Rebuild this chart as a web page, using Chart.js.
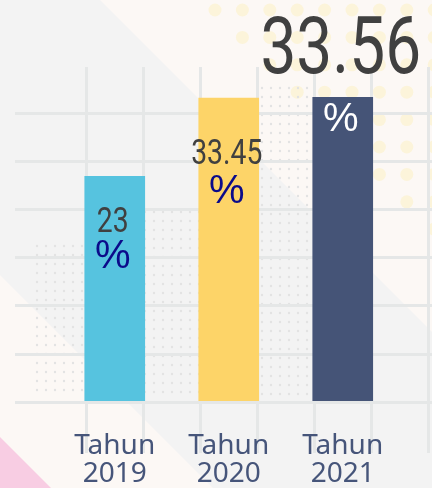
<!DOCTYPE html>
<html>
<head>
<meta charset="utf-8">
<script src="https://cdn.jsdelivr.net/npm/chart.js@4.4.0/dist/chart.umd.min.js"></script>
<style>
  html, body { margin: 0; padding: 0; overflow: hidden; background: #f3f3f3; }
  #wrap { width: 432px; height: 488px; position: relative; }
</style>
</head>
<body>
<div id="wrap"><canvas id="yearChart"></canvas></div>
<script>
// data read from the infographic
const years = [2019, 2020, 2021];
const values = [23, 33.45, 33.56];
const valueLabels = ["23", "33.45", "33.56"];
const tickLabels = [["Tahun", "2019"], ["Tahun", "2020"], ["Tahun", "2021"]];
const barColors = ["#56c3df", "#fdd468", "#455477"];

(() => {
  const canvas = document.getElementById("yearChart");
  if (typeof Chart === "undefined") {
    console.warn("[chart] Chart.js not loaded");
    return;
  }

  // axis ranges (the bars in the picture start below zero, so BASE is the baseline value)
  const X_MIN = 2018.125;
  const X_MAX = 2021.783;
  const Y_MIN = -10.93;
  const Y_MAX = 37.6;
  const BASE = -7.2;
  const Y_STEP = 6.43;
  const GRID = "#e5e7e7";

  const poly = (ctx, pts) => {
    ctx.beginPath();
    pts.forEach(([x, y], i) => (i ? ctx.lineTo(x, y) : ctx.moveTo(x, y)));
    ctx.closePath();
    ctx.fill();
  };

  // decorative background: diagonal bands, pink corner, dot patterns
  const backdrop = {
    id: "backdrop",
    beforeDraw(chart) {
      const { ctx, width, height } = chart;
      ctx.save();
      ctx.fillStyle = "#f3f3f3";
      ctx.fillRect(0, 0, width, height);
      ctx.fillStyle = "#fcf8f5";
      poly(ctx, [[100, 0], [width, 0], [width, width - 100]]);
      poly(ctx, [[0, 275], [height - 275, height], [0, height]]);
      ctx.fillStyle = "#f8cde3";
      poly(ctx, [[0, 437], [51, height], [0, height]]);

      ctx.fillStyle = "#fcf4da";
      for (let y = 10; y < 240; y += 27.4) {
        for (let x = 215; x < width + 8; x += 27.4) {
          if (x - y < 203) continue;
          ctx.beginPath();
          ctx.arc(x, y, 6.5, 0, Math.PI * 2);
          ctx.fill();
        }
      }

      ctx.fillStyle = "#e3e3e3";
      for (let x = 37; x <= 310; x += 9) {
        const top = x < 145 ? 246 : x < 259 ? 212 : 88;
        for (let y = top; y <= 398; y += 9) {
          ctx.beginPath();
          ctx.arc(x, y, 1.2, 0, Math.PI * 2);
          ctx.fill();
        }
      }
      ctx.restore();
    }
  };

  // value + "%" written on/above each bar
  const labelLayout = [
    { size: 35, dy: 56, pctDy: 92, pctColor: "#0b0b8a" },
    { size: 35, dy: 66, pctDy: 105, pctColor: "#0b0b8a" },
    { size: 79, dy: -24, pctDy: 34, pctColor: "#ffffff" }
  ];
  const valueText = {
    id: "valueText",
    afterDatasetsDraw(chart) {
      const { ctx } = chart;
      const meta = chart.getDatasetMeta(0);
      meta.data.forEach((bar, i) => {
        const lay = labelLayout[i];
        const cx = bar.x - 2;
        ctx.save();
        ctx.textAlign = "center";
        ctx.textBaseline = "alphabetic";
        ctx.fillStyle = "#404040";
        ctx.font = lay.size + "px Roboto";
        ctx.translate(cx, bar.y + lay.dy);
        ctx.scale(0.81, 1);
        ctx.fillText(valueLabels[i], 0, 0);
        ctx.restore();

        ctx.save();
        ctx.textAlign = "center";
        ctx.textBaseline = "alphabetic";
        ctx.fillStyle = lay.pctColor;
        ctx.font = "40px 'Liberation Sans'";
        ctx.fillText("%", cx, bar.y + lay.pctDy);
        ctx.restore();
      });
    }
  };

  new Chart(canvas, {
    type: "bar",
    data: {
      datasets: [
        {
          data: years.map((yr, i) => ({ x: yr, y: values[i] })),
          backgroundColor: barColors,
          borderWidth: 0,
          barThickness: 60,
          base: BASE,
          xAxisID: "x",
          yAxisID: "y"
        }
      ]
    },
    options: {
      responsive: true,
      maintainAspectRatio: false,
      animation: false,
      layout: { padding: { left: 15, top: 67, right: 0, bottom: 0 } },
      plugins: {
        legend: { display: false },
        tooltip: { enabled: false }
      },
      scales: {
        x: {
          type: "linear",
          position: "bottom",
          offset: false,
          min: X_MIN,
          max: X_MAX,
          afterBuildTicks: (scale) => {
            scale.ticks = years.map((v) => ({ value: v }));
          },
          afterFit: (scale) => {
            scale.height = 58;
          },
          grid: { display: false, drawTicks: false },
          border: { display: false },
          ticks: {
            autoSkip: false,
            maxRotation: 0,
            padding: 2,
            color: "#46557a",
            font: { family: "'Noto Sans'", size: 28, lineHeight: 1 },
            callback: (v) => tickLabels[years.indexOf(v)]
          }
        },
        // vertical grid lines, their tick marks run on below the chart area
        xg: {
          type: "linear",
          position: "bottom",
          weight: -1,
          offset: false,
          min: X_MIN,
          max: X_MAX,
          afterBuildTicks: (scale) => {
            const t = [];
            for (let v = years[0] - 0.25; v <= X_MAX; v += 0.5) t.push({ value: v });
            scale.ticks = t;
          },
          afterFit: (scale) => {
            scale.height = 0;
          },
          grid: { color: GRID, lineWidth: 3, offset: false, drawTicks: true, tickLength: 23 },
          border: { display: false },
          ticks: { display: false }
        },
        y: {
          min: Y_MIN,
          max: Y_MAX,
          afterBuildTicks: (scale) => {
            const t = [];
            for (let n = 0; n <= 6; n++) t.push({ value: BASE + n * Y_STEP });
            scale.ticks = t;
          },
          afterFit: (scale) => {
            scale.width = 0;
          },
          grid: { color: GRID, lineWidth: 3, drawTicks: false },
          border: { display: false },
          ticks: { display: false }
        }
      }
    },
    plugins: [backdrop, valueText]
  });
})();
</script>
</body>
</html>
